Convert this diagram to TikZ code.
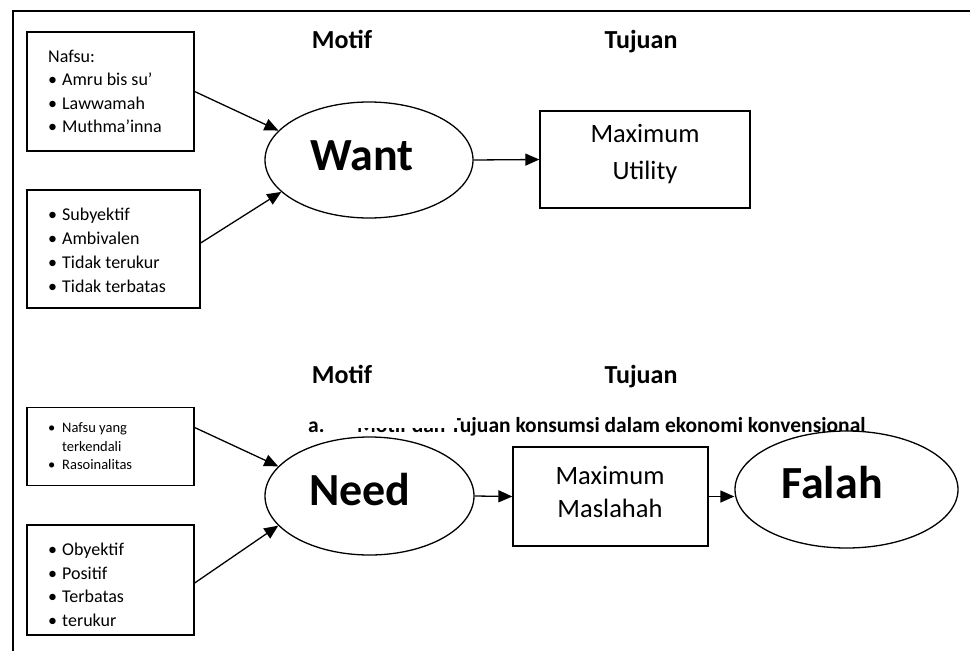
\documentclass[tikz,border=0pt]{standalone}
\usepackage{fontspec}
\setmainfont{Carlito}
\usetikzlibrary{arrows.meta,shapes.geometric}
\newcommand{\bul}{\makebox[14pt][l]{•}}
\begin{document}
\begin{tikzpicture}[x=1pt,y=-1pt,
  frameline/.style={line width=1.5pt},
  boxshape/.style={draw, rectangle, line width=1.3pt, inner sep=0pt},
  listtext/.style={anchor=west, align=left, inner sep=0pt},
  ell/.style={draw, ellipse, line width=1.3pt, fill=white, inner sep=0pt},
  arr/.style={-{Triangle[length=14pt,width=12pt]}, line width=1.3pt},
  lbl/.style={font=\bfseries\fontsize{26}{30}\selectfont, anchor=base},
  big/.style={font=\bfseries\fontsize{46}{52}\selectfont, anchor=base},
  goaltext/.style={align=center, inner sep=0pt}
]
\useasboundingbox (0,0) rectangle (970,651);
% frame
\draw[frameline] (13,651) -- (13,11) -- (970,11);

% headings
\node[lbl] (motif1) at (342,48) {Motif};
\node[lbl] (tujuan1) at (641,48) {Tujuan};
\node[lbl] (motif2) at (342,383) {Motif};
\node[lbl] (tujuan2) at (641,383) {Tujuan};

% caption (partly hidden)
\node[font=\bfseries\fontsize{21.5}{26}\selectfont, anchor=base west, inner sep=0pt] (caption) at (308,432)
  {\makebox[49pt][l]{a.}Motif dan Tujuan konsumsi dalam ekonomi konvensional};
\fill[white] (354,412) rectangle (457,427.5);

% upper part
\node[boxshape, minimum width=167, minimum height=119] (box1) at (110.5,91.5) {};
\node[listtext, font=\fontsize{18}{23.5}\selectfont] (box1t) at (48,91.5)
  {Nafsu:\\ \bul Amru bis su’\\ \bul Lawwamah\\ \bul Muthma’inna};
\node[boxshape, minimum width=173, minimum height=118] (box2) at (113.5,249) {};
\node[listtext, font=\fontsize{18}{24}\selectfont] (box2t) at (48,250)
  {\bul Subyektif\\ \bul Ambivalen\\ \bul Tidak terukur\\ \bul Tidak terbatas};
\node[ell, minimum width=208, minimum height=116] (want) at (369,160) {};
\node[big] (wantt) at (362,170) {Want};
\node[boxshape, minimum width=210, minimum height=97] (util) at (645,159.5) {};
\node[goaltext, font=\fontsize{26.5}{37}\selectfont] (utilt) at (645,154) {Maximum\\Utility};

% lower part
\node[boxshape, minimum width=167, minimum height=78] (box3) at (110.5,446.5) {};
\node[listtext, font=\fontsize{14.5}{18.5}\selectfont] (box3t) at (48,446.5)
  {\bul Nafsu yang\\ \hspace*{14pt}terkendali\\ \bul Rasoinalitas};
\node[boxshape, minimum width=167, minimum height=110] (box4) at (110.5,580) {};
\node[listtext, font=\fontsize{18}{23.5}\selectfont] (box4t) at (48,585)
  {\bul Obyektif\\ \bul Positif\\ \bul Terbatas\\ \bul terukur};
\node[ell, minimum width=209, minimum height=118] (need) at (369.5,496) {};
\node[big] (needt) at (360,505) {Need};
\node[boxshape, minimum width=195, minimum height=99] (masl) at (610.5,496.5) {};
\node[goaltext, font=\fontsize{26.5}{33}\selectfont] (maslt) at (610,492) {Maximum\\Maslahah};
\node[ell, minimum width=223, minimum height=117] (falah) at (846.5,489.5) {};
\node[big] (falaht) at (832,498) {Falah};

% connectors
\draw[arr] (box1.east) -- (want.162);
\draw[arr] ([yshift=6pt]box2.east) -- (want.200);
\draw[arr] (want.east) -- (util.west);
\draw[arr] ([yshift=19pt]box3.east) -- (need.162);
\draw[arr] ([yshift=-3pt]box4.east) -- (need.198);
\draw[arr] (need.east) -- (masl.west);
\draw[arr] (masl.east) -- (falah.west |- masl.east);
\end{tikzpicture}
\end{document}
